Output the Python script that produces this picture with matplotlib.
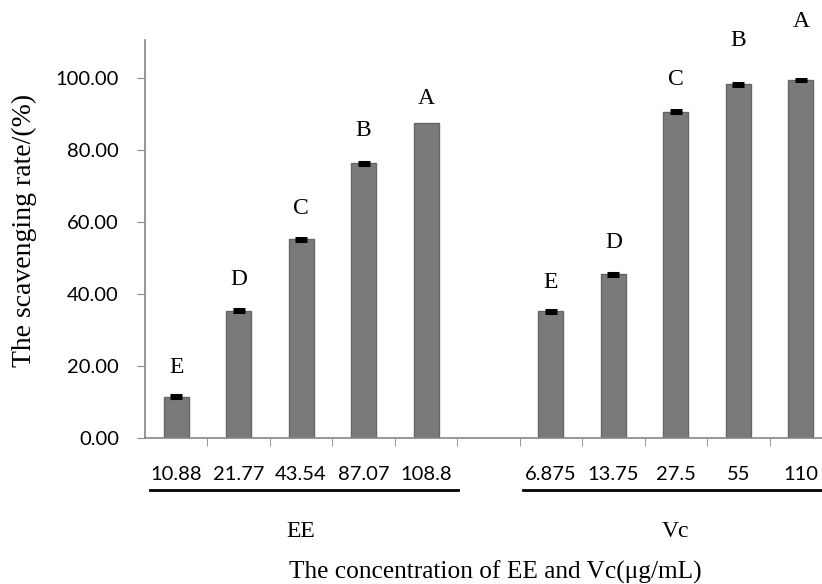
import numpy as np
import matplotlib
matplotlib.use("Agg")
import matplotlib.pyplot as plt
import matplotlib.transforms as mtransforms

# scavenging rate (%) of EE and Vc at each concentration (ug/mL)
ee_conc = ["10.88", "21.77", "43.54", "87.07", "108.8"]
ee_rate = [11.4, 35.3, 55.2, 76.3, 87.5]
ee_err = [0.4, 0.4, 0.4, 0.4, 0.0]
ee_letters = ["E", "D", "C", "B", "A"]

vc_conc = ["6.875", "13.75", "27.5", "55", "110"]
vc_rate = [35.2, 45.5, 90.6, 98.2, 99.4]
vc_err = [0.4, 0.4, 0.4, 0.4, 0.4]
vc_letters = ["E", "D", "C", "B", "A"]

# how far above each bar its letter sits (data units)
ee_letter_gap = [8.3, 8.6, 8.4, 9.0, 6.7]
vc_letter_gap = [7.9, 8.7, 8.8, 12.1, 16.2]

serif = "Liberation Serif"
sans = "Lato"

# one empty slot between the two groups
x_ee = np.arange(5)
x_vc = np.arange(6, 11)
x_all = np.concatenate([x_ee, x_vc])
rates = np.array(ee_rate + vc_rate)
errs = np.array(ee_err + vc_err)
letters = ee_letters + vc_letters
gaps = ee_letter_gap + vc_letter_gap

fig = plt.figure(figsize=(8.22, 5.84), dpi=100)
ax = fig.add_axes([145 / 822, 1 - 438 / 584, 687 / 822, 398 / 584])

ax.bar(x_all, rates, width=0.4, color="#7a7a7a", edgecolor="#666666", linewidth=1.0, zorder=2)
has_err = errs > 0
ax.errorbar(x_all[has_err], rates[has_err], yerr=errs[has_err], fmt="none", ecolor="black",
            elinewidth=1.5, capsize=4, capthick=2.2, zorder=3)

for x, r, lab, g in zip(x_all, rates, letters, gaps):
    ax.text(x, r + g, lab, ha="center", va="center", fontsize=17,
            family=serif, clip_on=False)

ax.set_xlim(-0.5, 10.5)
ax.set_ylim(0, 110.5)
ax.set_yticks(np.arange(0, 101, 20))
ax.set_yticklabels([f"{v:.2f}" for v in np.arange(0, 101, 20)], fontsize=14.5, family=sans)

ax.set_xticks(x_all)
ax.set_xticklabels(ee_conc + vc_conc, fontsize=14.5, family=sans)
ax.set_xticks(np.arange(0.5, 10.6, 1.0), minor=True)
ax.tick_params(axis="x", which="major", length=0, pad=20)
ax.tick_params(axis="x", which="minor", length=5.8, color="#868686", direction="out")
ax.tick_params(axis="y", length=5.8, color="#868686", pad=13)

for s in ["top", "right"]:
    ax.spines[s].set_visible(False)
for s in ["left", "bottom"]:
    ax.spines[s].set_color("#868686")
    ax.spines[s].set_linewidth(1.2)

# group underlines and group names below the tick labels
trans = mtransforms.blended_transform_factory(ax.transData, ax.transAxes)
ax.plot([-0.42, 4.51], [-0.13, -0.13], color="black", lw=2, transform=trans, clip_on=False)
ax.plot([5.55, 10.6], [-0.13, -0.13], color="black", lw=2, transform=trans, clip_on=False)
ax.text(2, -0.236, "EE", ha="center", va="center", fontsize=17, family=serif, transform=trans)
ax.text(8, -0.236, "Vc", ha="center", va="center", fontsize=17, family=serif, transform=trans)

fig.text(495 / 822, 1 - 572 / 584, "The concentration of EE and Vc(\u03bcg/mL)",
         ha="center", va="center", fontsize=18.3, family=serif)
fig.text(24 / 822, 1 - 230 / 584, "The scavenging rate/(%)", rotation=90,
         ha="center", va="center", fontsize=20, family=serif)

fig.savefig("out.png", dpi=100)
